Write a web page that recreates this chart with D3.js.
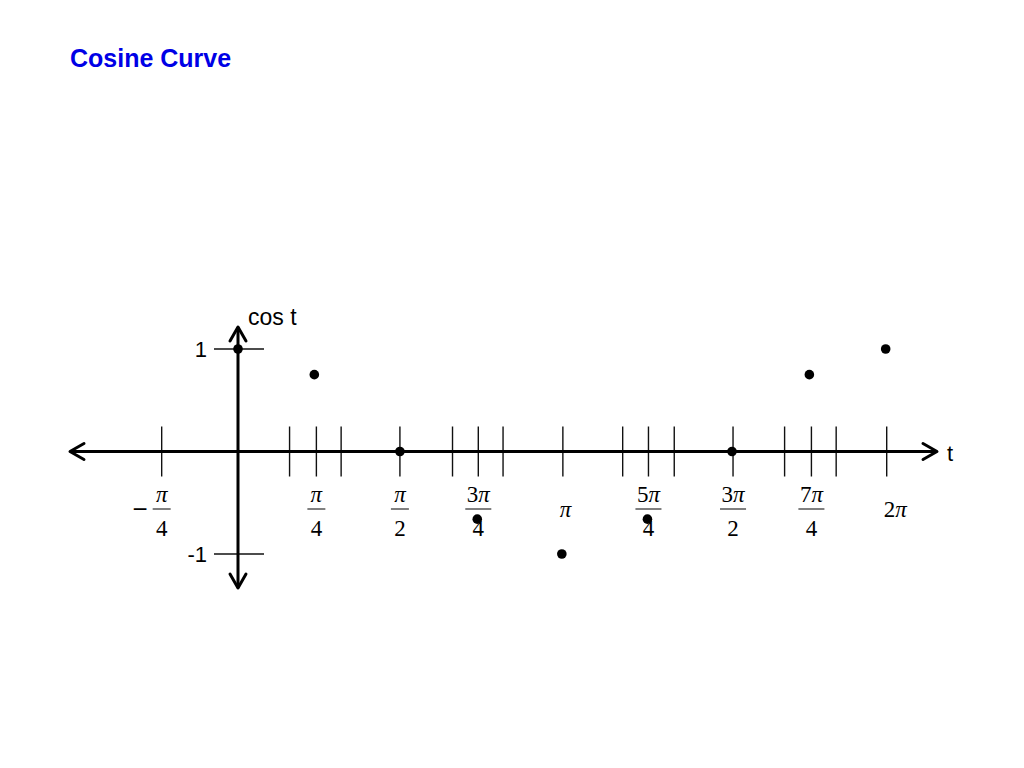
<!DOCTYPE html>
<html>
<head>
<meta charset="utf-8">
<script src="https://cdn.jsdelivr.net/npm/d3@7"></script>
<style>
  html, body { margin: 0; padding: 0; background: #fff; }
  svg { display: block; }
</style>
</head>
<body>
<script>
// ---- data (t in radians) ----
const tickT = [-0.74, 0.50, 0.76, 1.00, 1.57, 2.08, 2.33, 2.57, 3.15, 3.73, 3.98, 4.23, 4.80, 5.30, 5.56, 5.80, 6.29];
const labelT = [-0.74, 0.76, 1.57, 2.33, 3.15, 3.98, 4.80, 5.56, 6.29];
const labelNum = ["π", "π", "π", "3π", "π", "5π", "3π", "7π", "2π"];
const labelDen = ["4", "4", "2", "4", "", "4", "2", "4", ""];
const labelNeg = [true, false, false, false, false, false, false, false, false];
const pointT = [0, 0.74, 1.57, 2.32, 3.14, 3.97, 4.79, 5.54, 6.28];
const pointCos = [1, 0.75, 0, -0.66, -1, -0.66, 0, 0.75, 1];
const yTickValues = [1, -1];
const yTickLabels = ["1", "-1"];
const titleText = "Cosine Curve";
const xAxisLabel = "t";
const yAxisLabel = "cos t";

// ---- layout ----
const W = 1024, H = 768;
const svg = d3.select("body").append("svg").attr("width", W).attr("height", H);

const x = d3.scaleLinear().domain([0, 2 * Math.PI]).range([238, 886]);
const y = d3.scaleLinear().domain([-1, 1]).range([554, 349]);

const x0 = x(0), y0 = y(0);
const xLeft = 70, xRight = 937, yTop = 327, yBottom = 588;
const sans = "Liberation Sans, Arial, sans-serif";
const serif = "Liberation Serif, Times New Roman, serif";

// title
svg.append("text")
  .attr("x", 70).attr("y", 67)
  .attr("font-family", sans)
  .attr("font-weight", "bold").attr("font-size", 25)
  .attr("fill", "#0000e6")
  .text(titleText);

// x ticks
svg.append("g").selectAll("line").data(tickT).join("line")
  .attr("x1", d => x(d)).attr("x2", d => x(d))
  .attr("y1", y0 - 25).attr("y2", y0 + 25)
  .attr("stroke", "#111").attr("stroke-width", 1.4);

// y ticks
svg.append("g").selectAll("line").data(yTickValues).join("line")
  .attr("x1", x0 - 24).attr("x2", x0 + 26)
  .attr("y1", d => y(d)).attr("y2", d => y(d))
  .attr("stroke", "#111").attr("stroke-width", 1.4);

svg.append("g").selectAll("text").data(yTickValues).join("text")
  .attr("x", x0 - 31).attr("y", d => y(d) + 8)
  .attr("text-anchor", "end")
  .attr("font-family", sans)
  .attr("font-size", 22).attr("fill", "#000")
  .text((d, i) => yTickLabels[i]);

// axes with open arrowheads
const axisG = svg.append("g").attr("stroke", "#000").attr("stroke-width", 3)
  .attr("fill", "none").attr("stroke-linecap", "round").attr("stroke-linejoin", "round");
axisG.append("line").attr("x1", xLeft + 1).attr("x2", xRight - 1).attr("y1", y0).attr("y2", y0);
axisG.append("line").attr("x1", x0).attr("x2", x0).attr("y1", yTop + 1).attr("y2", yBottom - 1);
const ah = 14, aw = 8;
axisG.append("path").attr("d", `M${xRight - ah},${y0 - aw}L${xRight},${y0}L${xRight - ah},${y0 + aw}`);
axisG.append("path").attr("d", `M${xLeft + ah},${y0 - aw}L${xLeft},${y0}L${xLeft + ah},${y0 + aw}`);
axisG.append("path").attr("d", `M${x0 - aw},${yTop + ah}L${x0},${yTop}L${x0 + aw},${yTop + ah}`);
axisG.append("path").attr("d", `M${x0 - aw},${yBottom - ah}L${x0},${yBottom}L${x0 + aw},${yBottom - ah}`);

// axis labels
svg.append("text").attr("x", xRight + 10).attr("y", y0 + 9)
  .attr("font-family", sans).attr("font-size", 22)
  .text(xAxisLabel);
svg.append("text").attr("x", x0 + 10).attr("y", yTop - 2)
  .attr("font-family", sans).attr("font-size", 23)
  .text(yAxisLabel);

// x tick labels (fractions of π)
function writeNum(sel, s) {
  for (const ch of s) {
    sel.append("tspan")
      .attr("font-style", ch === "π" ? "italic" : "normal")
      .text(ch);
  }
}
const lab = svg.append("g");
labelT.forEach((t, i) => {
  const cx = x(t);
  const g = lab.append("g");
  if (labelDen[i]) {
    const num = g.append("text").attr("x", cx).attr("y", 502)
      .attr("text-anchor", "middle").attr("font-family", serif).attr("font-size", 23);
    writeNum(num, labelNum[i]);
    const wNum = num.node().getComputedTextLength();
    const bw = Math.max(wNum + 3, 18);
    g.append("line").attr("x1", cx - bw / 2).attr("x2", cx + bw / 2)
      .attr("y1", 509).attr("y2", 509).attr("stroke", "#000").attr("stroke-width", 1);
    g.append("text").attr("x", cx).attr("y", 536)
      .attr("text-anchor", "middle").attr("font-family", serif).attr("font-size", 23)
      .text(labelDen[i]);
    if (labelNeg[i]) {
      g.append("text").attr("x", cx - bw / 2 - 5).attr("y", 518)
        .attr("text-anchor", "end").attr("font-family", sans).attr("font-size", 26)
        .text("−");
    }
  } else {
    const t1 = g.append("text").attr("x", cx - 3).attr("y", 517)
      .attr("text-anchor", "start").attr("font-family", serif).attr("font-size", 23);
    writeNum(t1, labelNum[i]);
  }
});

// points
svg.append("g").selectAll("circle").data(pointT).join("circle")
  .attr("cx", d => x(d)).attr("cy", (d, i) => y(pointCos[i]))
  .attr("r", 4.8).attr("fill", "#000");
</script>
</body>
</html>
